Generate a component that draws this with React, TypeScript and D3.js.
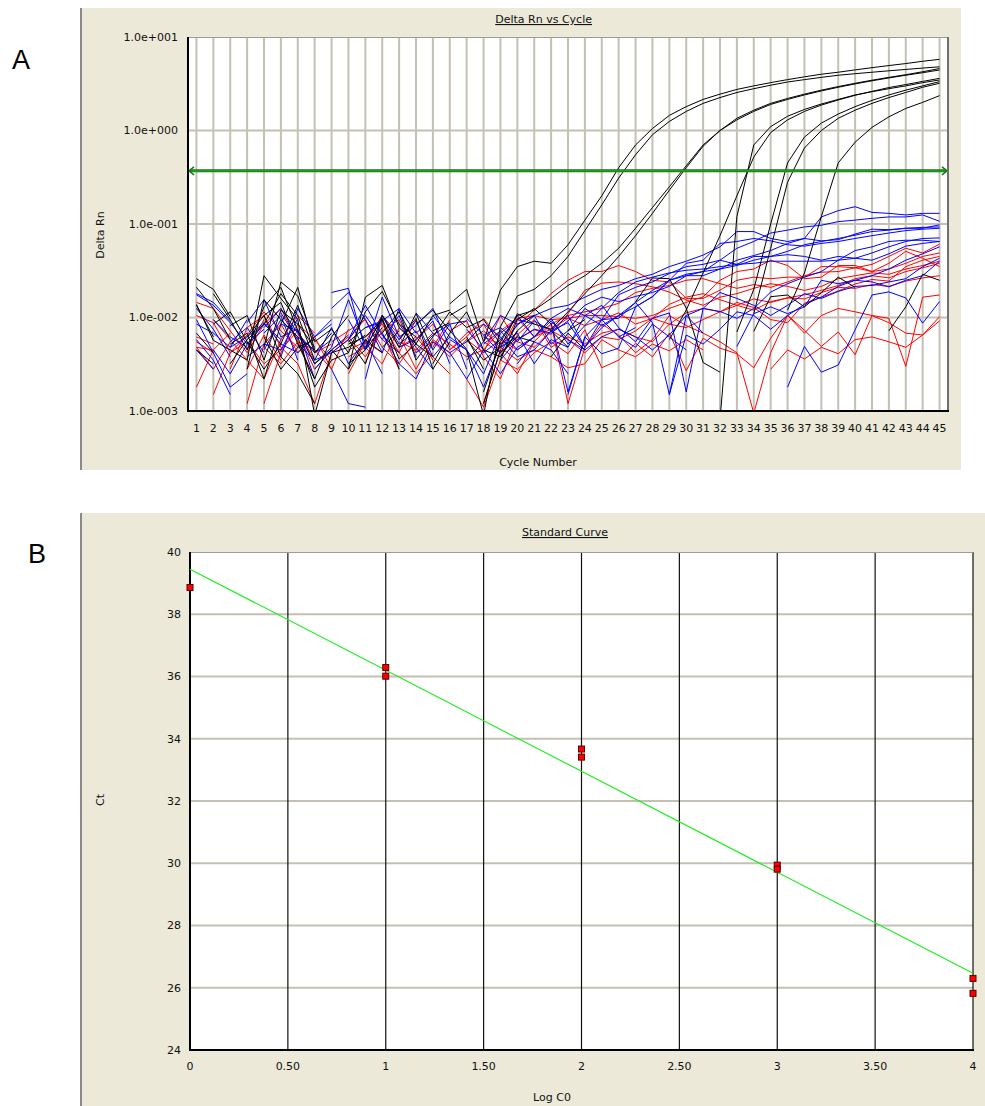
import React from 'react';
import * as d3 from 'd3';

type V = number | null;
const n = null;

// ---------- Panel A data ----------
const CYCLES = [1,2,3,4,5,6,7,8,9,10,11,12,13,14,15,16,17,18,19,20,21,22,23,24,25,26,27,28,29,30,31,32,33,34,35,36,37,38,39,40,41,42,43,44,45];
const Y_TICKS = [0.001, 0.01, 0.1, 1, 10];
const Y_TICK_LABELS = ['1.0e-003', '1.0e-002', '1.0e-001', '1.0e+000', '1.0e+001'];
const THRESHOLD = 0.37;

// black: standards (amplification) + baseline wells
const K1: V[] = [0.026,0.020,0.0102,n,0.0048, 0.024,0.017,0.0055,0.0075,0.0042, 0.0115,0.019,0.0085,0.0062,n, 0.014,0.02,0.0055,0.0197,0.035, 0.04,0.038,0.06,0.11,0.2, 0.4,0.7,1.05,1.45,1.8, 2.15,2.45,2.75,3.0,3.25, 3.5,3.75,4.0,4.2,4.45, 4.7,4.95,5.2,5.5,5.77];
const K2: V[] = [0.0138,0.0057,0.0045,0.0035,0.028, 0.016,0.0095,0.0009,0.0042,0.0048, 0.0065,n,0.012,0.0035,0.0062, n,0.0045,0.0009,0.008,0.017, 0.02,0.028,0.045,0.085,0.16, 0.31,0.55,0.9,1.25,1.6, 1.95,2.25,2.55,2.8,3.05, 3.3,3.5,3.7,3.9,4.05, 4.2,4.35,4.5,4.65,4.8];
const K3: V[] = [n,0.018,0.0095,0.0045,0.013, 0.021,0.0072,0.0032,0.0045,0.0028, 0.0165,0.022,0.0078,0.0052,0.0105, 0.012,n,0.0016,0.0055,0.0105, 0.012,0.016,0.022,0.028,0.038, 0.055,0.09,0.15,0.25,0.42, 0.7,1.0,1.35,1.65,1.95, 2.2,2.45,2.7,2.95,3.2, 3.45,3.7,3.95,4.25,4.6];
const K4: V[] = [0.0095,n,0.0052,0.0068,0.0022, 0.0085,0.021,0.0045,n,0.0058, 0.0032,0.0105,0.0048,0.011,0.0045, n,0.0058,0.0035,0.0048,0.011, 0.0085,0.0075,0.0115,0.018,0.028, 0.045,0.075,0.13,0.23,0.4, 0.68,1.0,1.3,1.6,1.9, 2.15,2.4,2.65,2.9,3.15, 3.4,3.65,3.9,4.15,4.44];
const K5: V[] = [0.0045,0.0032,n,0.0062,0.0105, 0.0038,0.0025,0.0012,n,0.0052, 0.0062,0.0095,0.0028,n,0.0032, 0.0068,0.0115,0.0045,0.0038,0.0072, 0.0105,n,n,n,n, n,n,n,n,n, n,0.0008,0.12,0.7,1.1, 1.42,1.68,1.92,2.15,2.4, 2.6,2.8,3.0,3.25,3.47];
const K6: V[] = [0.021,0.0125,0.0058,n,0.0105, 0.0145,0.0052,0.0022,0.0062,0.0105, n,0.0048,0.0072,n,0.0062, 0.0115,0.0078,0.0095,0.0052,n, n,0.0038,0.0068,0.0045,n, n,n,n,0.0058,0.012, 0.03,0.075,0.2,0.52,0.95, 1.3,1.6,1.87,2.12,2.38, 2.62,2.88,3.1,3.35,3.61];
const K7: V[] = [0.0055,n,0.0082,0.0105,0.0035, 0.012,0.0085,0.0048,n,0.0028, 0.0058,0.0042,n,0.0085,0.012, 0.0072,0.0046,n,0.0042,0.0062, 0.0055,n,0.0072,0.0095,n, n,n,n,n,n, n,n,0.007,0.02,0.1, 0.45,0.85,1.2,1.5,1.8, 2.1,2.4,2.7,3.0,3.33];
const K8: V[] = [n,0.0085,0.0115,0.0055,0.0028, 0.0052,0.0135,0.0042,0.0068,n, 0.0048,0.0098,0.0036,0.0052,n, 0.0105,0.0135,n,0.0035,0.0095, 0.0125,0.0085,n,n,n, n,n,n,n,n, n,n,n,0.011,0.055, 0.28,0.65,1.0,1.35,1.65, 1.95,2.25,2.55,2.9,3.2];
const K9: V[] = [0.0068,0.0042,n,0.0028,0.0155, 0.0095,0.0062,0.0018,0.0035,0.0042, n,0.0068,0.0115,0.0052,0.0038, n,0.0062,0.0028,n,n, n,0.0072,0.0048,n,n, n,n,n,n,n, n,n,n,n,n, 0.012,0.03,0.12,0.45,0.75, 1.08,1.4,1.72,2.0,2.36];
const K10: V[] = [n,n,0.0032,0.0058,0.0085, 0.018,0.0105,0.0035,n,0.0055, 0.0078,n,0.0058,0.0098,0.0028, 0.0055,n,n,0.0038,0.0072, n,n,n,n,n, n,0.0147,0.0265,0.026,0.0126, 0.0033,0.0026,n,0.0071,0.0167, 0.0174,0.013,0.0184,0.027,0.021, n,n,n,n,n];
const K11: V[] = [0.0135,0.0062,n,n,0.0062, 0.0028,0.0048,0.0058,n,0.0032, 0.0045,0.0078,n,n,0.0072, 0.0088,n,0.0012,0.0045,n, n,n,n,n,n, n,n,n,n,n, n,n,n,n,n, n,n,n,n,n, n,0.0072,0.013,0.029,0.025];

// blue wells
const B1: V[] = [0.018,0.0145,0.0092,n,0.0068, 0.0105,0.0035,n,0.0125,0.0185, 0.0095,0.0042,0.0125,0.0068,0.0098, n,0.0035,0.0055,0.0105,0.0085, 0.0105,0.0125,0.0135,0.0165,0.02, 0.022,0.026,0.029,0.035,0.04, 0.0465,0.057,0.083,0.083,0.07, 0.065,0.07,0.119,0.139,0.153, 0.133,0.13,0.125,0.13,0.13];
const B2: V[] = [0.0175,0.0135,0.0088,0.0052,0.0075, n,0.0062,0.0045,n,0.0095, 0.0045,0.0105,0.0058,0.0092,0.0038, 0.0062,0.0045,0.0025,0.0068,0.0095, 0.0085,n,0.0015,0.0062,0.0095, 0.0098,0.0145,0.0195,0.025,0.028, 0.031,0.041,0.055,0.065,0.08, 0.086,0.093,0.097,0.106,0.11, 0.115,0.119,0.119,0.125,0.107];
const B3: V[] = [0.0045,0.0028,n,0.0088,0.0155, 0.0062,0.0075,0.0022,n,0.0058, 0.0135,0.0065,0.0042,n,0.0105, 0.0062,n,0.0052,0.0072,0.0045, 0.0062,0.0098,0.0125,0.0105,0.0082, 0.0105,0.013,0.0167,0.025,0.029, 0.031,0.033,0.036,0.041,0.045, 0.051,0.06,0.065,0.07,0.076, 0.083,0.086,0.09,0.092,0.093];
const B4: V[] = [n,0.0095,0.0062,0.0048,n, 0.0038,0.0125,0.0062,0.0085,n, 0.0078,0.0092,0.0125,n,0.0045, 0.0085,0.0092,n,0.0035,0.0058, 0.0075,0.0068,0.0092,0.0135,0.0165, 0.0148,0.0168,0.0185,0.0215,0.028, 0.028,0.033,0.041,0.046,0.052, 0.062,0.07,0.066,0.068,0.078, 0.088,0.087,0.09,0.09,0.098];
const B5: V[] = [0.0095,0.0042,0.0018,0.0025,n, 0.0085,0.0072,0.0032,0.0048,0.0155, 0.0052,n,0.0085,0.0048,0.0028, n,0.0075,0.0045,0.0025,0.0048, 0.0062,0.0098,0.0052,0.0082,0.0125, 0.0185,0.024,0.027,0.03,0.032, 0.033,0.035,0.037,0.038,0.04, 0.04,0.04,0.04,0.041,0.043, 0.049,0.057,0.065,0.07,0.071];
const B6: V[] = [n,0.0068,0.0048,0.0095,n, 0.0112,0.0058,n,0.0185,0.0205, 0.0045,0.0165,0.0062,0.0082,0.0125, 0.0048,n,0.0065,0.0042,0.0085, 0.0105,0.0052,0.0072,0.0125,0.0095, 0.0175,0.021,0.024,0.0295,0.035, 0.037,0.041,0.037,0.045,0.045, 0.047,0.045,0.041,0.045,0.043, 0.041,0.048,0.058,0.062,0.065];
const B7: V[] = [0.0058,0.0035,0.0015,n,0.0078, 0.0125,0.0068,0.0042,0.0058,n, 0.0022,0.0105,0.0052,0.0072,n, 0.0042,0.0055,0.0085,0.0062,0.0038, 0.0045,0.0072,0.0105,0.0048,0.0095, 0.0062,0.0048,0.0085,0.0062,0.0045, n,n,0.0049,0.011,0.013, 0.011,0.013,0.025,0.023,0.025, 0.024,0.0213,0.025,0.028,0.04];
const B8: V[] = [0.0085,0.0068,n,0.0038,0.0052, 0.0045,0.0098,n,0.0028,0.0012, 0.0011,n,0.0048,0.0058,0.0092, 0.0032,n,0.0042,0.0058,0.0105, 0.0062,0.0092,0.0058,0.0045,0.0062, 0.0075,0.0062,0.0045,0.0065,0.0105, 0.0125,0.0116,0.0098,0.0125,0.0187, 0.023,0.027,0.031,0.041,0.052, 0.057,0.065,0.067,0.067,0.065];
const B9: V[] = [0.0032,n,0.0055,0.0078,0.0042, n,0.0052,0.0035,0.0078,0.0032, 0.0058,0.0025,n,0.0042,0.0065, 0.0085,0.0028,n,0.0048,0.0062, n,0.0088,0.0016,0.0062,0.0041, 0.0047,0.013,0.0167,0.025,0.038, 0.041,0.062,0.065,0.07,0.066, 0.06,0.058,0.062,0.065,0.07, 0.075,0.08,0.085,0.088,0.09];
const B10: V[] = [n,0.0045,0.0025,0.0052,0.0085, 0.0058,n,0.0028,0.0045,0.0065, n,0.0068,0.0032,0.0022,0.0055, 0.0042,0.0022,0.0045,n,0.0032, 0.0055,0.0045,0.0025,n,n, 0.0062,0.0078,n,0.0015,0.0105, 0.0068,n,n,n,n, 0.0018,0.0049,0.0026,0.0031,0.0074, 0.0174,0.0188,0.0162,0.0087,0.0148];
const B11: V[] = [0.0125,0.0075,0.0038,n,0.0045, 0.0095,n,0.0035,0.0042,0.0058, 0.0105,0.0058,0.0105,0.0038,n, 0.0058,0.0045,0.0018,0.0052,0.0068, 0.0032,0.0058,0.0048,0.0105,0.0135, 0.0078,0.0055,0.0098,0.0112,0.0016, 0.0125,0.0185,0.016,0.0135,0.0105, 0.0135,0.018,0.016,0.019,0.0215, 0.022,0.024,0.026,0.035,0.043];
const B12: V[] = [n,n,0.0048,0.0062,0.0088, 0.0052,0.0042,0.0062,0.0095,n, 0.0078,0.0088,n,0.0112,0.0068, n,0.0098,0.0065,0.0078,0.0055, 0.0092,0.0072,0.0088,0.0048,0.0078, 0.0105,0.0145,0.0088,0.0015,0.0065, 0.0052,0.0075,0.0115,0.0105,0.0075, 0.0105,0.0138,0.0165,0.0215,0.025, 0.028,0.033,0.041,0.048,0.057];

// red wells
const R1: V[] = [0.0055,0.0042,n,0.0028,0.0065, 0.0035,n,0.0042,0.0052,n, 0.0032,0.0092,0.0048,0.0062,0.0038, 0.0025,n,0.0062,0.0052,0.0082, 0.012,0.018,0.025,0.031,0.031, 0.036,0.031,0.025,0.024,0.016, 0.016,0.0196,0.025,0.027,0.026, 0.027,0.027,0.035,0.035,0.034, 0.031,0.038,0.051,0.043,0.035];
const R2: V[] = [0.0145,0.0125,0.0072,0.0042,0.0085, 0.0125,0.0055,0.0022,n,0.0045, 0.0055,0.0105,0.0065,0.0028,0.0058, 0.0042,n,0.0012,0.0045,0.0098, 0.0105,0.0095,0.0098,0.0105,0.0105, 0.0102,0.0098,0.0105,0.0125,0.0145, 0.0166,0.025,0.031,0.033,0.041, 0.036,0.026,0.027,0.036,0.036, 0.031,0.033,0.038,0.045,0.049];
const R3: V[] = [0.0048,0.0045,n,0.0012,0.0052, 0.0085,0.0042,0.0062,0.0028,0.0075, n,0.0058,0.0042,0.0095,n, 0.0045,0.0068,0.0085,0.0042,0.0058, 0.0074,0.0066,0.011,0.0196,0.0233, 0.024,0.023,0.0213,0.0187,0.0154, 0.0135,0.0165,0.018,0.0205,0.023, 0.0215,0.0195,0.0215,0.026,0.028, 0.03,0.029,0.033,0.036,0.04];
const R4: V[] = [n,0.0015,0.0042,0.0055,0.0032, 0.0045,0.0072,0.0035,n,0.0025, 0.0055,0.0042,n,0.0072,0.0035, n,0.0022,0.0011,0.0035,0.0028, 0.0042,0.0055,0.0041,0.0074,0.0029, 0.0035,0.0053,0.0038,0.0068,0.0027, 0.006,0.0047,0.0041,0.0029,0.006, 0.0106,0.0073,0.0049,0.007,0.004, 0.0105,0.0088,0.0068,0.0065,0.0102];
const R5: V[] = [0.0048,0.0028,0.0055,n,0.0012, 0.0042,0.0085,0.0058,0.0035,n, 0.0052,0.0068,0.0028,n,0.0048, 0.0095,n,0.0055,0.0042,0.0025, 0.0055,0.0085,0.0012,0.0048,0.0085, 0.0065,0.0042,0.0058,0.0105,0.0082, 0.0068,0.0055,0.0042,0.00095,0.0042, 0.0105,0.0068,0.0105,0.0125,0.0115, 0.0105,0.0098,0.003,0.0165,0.0174];
const R6: V[] = [0.0105,0.0088,0.0042,0.0065,0.0115, 0.0072,0.0048,n,0.0055,0.0072, 0.0095,0.0048,0.0032,0.0058,0.0085, 0.0045,0.0062,0.0098,0.0058,0.0045, 0.0062,0.0085,0.0105,0.0115,0.0125, 0.0142,0.0185,0.0205,0.022,0.025, 0.026,0.023,0.0205,0.0225,0.021, 0.024,0.028,0.0305,0.031,0.034, 0.037,0.045,0.055,0.049,0.061];
const R7: V[] = [0.0035,n,0.0028,0.0078,0.0105, 0.0048,0.0032,0.0012,0.0042,0.0058, 0.0098,n,0.0055,0.0045,0.0068, 0.0052,0.0038,0.0045,0.0072,0.0098, 0.0062,0.0075,0.0098,0.0082,0.0095, 0.0112,0.0085,0.0098,0.0138,0.0165, 0.018,0.0155,0.0135,0.012,0.0148, 0.0162,0.0175,0.0195,0.022,0.026, 0.028,0.0265,0.031,0.034,0.038];
const R8: V[] = [n,0.0095,0.0058,0.0035,0.0022, 0.0058,0.0105,0.0068,n,0.0038, 0.0048,0.0032,0.0078,0.0052,n, 0.0072,0.0092,0.0038,0.0022,0.0065, 0.0095,0.0048,0.0062,0.0052,0.0068, 0.0075,0.0062,0.0055,0.0085,0.0078, 0.0095,0.0115,0.0145,0.0128,0.0095, 0.0088,0.0142,0.0165,0.0192,0.0228, 0.0255,0.0245,0.035,0.041,0.045];
const R9: V[] = [0.0062,0.0052,n,0.0045,0.0095, n,0.0068,0.0028,0.0045,0.0062, 0.0038,0.0072,0.0095,0.0042,0.0055, 0.0038,0.0058,0.0042,0.0105,0.0055, 0.0048,0.0072,0.0058,0.0042,0.0062, 0.0058,0.0072,0.0098,0.0085,0.0112, 0.0125,0.0115,0.0135,0.0158,0.0145, 0.0162,0.0158,0.0185,0.021,0.0205, 0.0225,0.0215,0.0245,0.0265,0.028];
const R10: V[] = [0.0018,0.0045,0.0068,n,0.0048, 0.0032,0.0055,0.0045,0.0028,n, 0.0062,0.0085,0.0042,0.0025,0.0042, n,0.0055,0.0072,0.0048,0.0035, 0.0045,0.0038,0.0029,0.0032,0.0058, 0.0045,0.0038,0.0052,0.0044,0.0058, 0.0045,n,n,n,0.0028, 0.0045,0.0036,0.0048,0.0041,0.0058, 0.0062,0.0055,0.0048,0.0065,0.0092];

const BLACK = [K1, K2, K3, K4, K5, K6, K7, K8, K9, K10, K11];
const BLUE = [B1, B2, B3, B4, B5, B6, B7, B8, B9, B10, B11, B12];
const RED = [R1, R2, R3, R4, R5, R6, R7, R8, R9, R10];

// ---------- Panel B data ----------
const LOG_C0 = [0, 1, 1, 2, 2, 3, 3, 4, 4];
const CT = [38.86, 36.29, 36.01, 33.67, 33.41, 29.94, 29.81, 26.30, 25.82];
const B_X_TICKS = [0, 0.5, 1, 1.5, 2, 2.5, 3, 3.5, 4];
const B_X_LABELS = ['0', '0.50', '1', '1.50', '2', '2.50', '3', '3.50', '4'];
const B_Y_TICKS = [24, 26, 28, 30, 32, 34, 36, 38, 40];

const BEIGE = '#ECE9D8';
const GRID = '#c4c0b4';
const FONT = '"DejaVu Sans", Verdana, sans-serif';

export default function App() {
  // Panel A
  const ax = d3.scaleLinear().domain([0.5, 45.5]).range([188, 948]);
  const ay = d3.scaleLog().domain([0.001, 10]).range([411, 37]);
  const line = d3
    .line<V>()
    .defined((v) => v != null && (v as number) > 0)
    .x((_, i) => ax(CYCLES[i]))
    .y((v) => ay(v as number));

  // Panel B
  const bx = d3.scaleLinear().domain([0, 4]).range([190, 973]);
  const by = d3.scaleLinear().domain([24, 40]).range([1050, 552]);
  const mx = d3.mean(LOG_C0) as number;
  const my = d3.mean(CT) as number;
  const sxy = d3.sum(LOG_C0.map((xv, i) => (xv - mx) * (CT[i] - my)));
  const sxx = d3.sum(LOG_C0.map((xv) => (xv - mx) * (xv - mx)));
  const slope = sxy / sxx;
  const intercept = my - slope * mx;

  const ty = ay(THRESHOLD);

  return (
    <svg width={985} height={1106} style={{ position: 'absolute', left: 0, top: 0, background: '#fff' }} fontFamily={FONT}>
      <defs>
        <clipPath id="clipA">
          <rect x={188} y={37} width={760} height={374} />
        </clipPath>
      </defs>

      {/* Panel labels */}
      <text x={12} y={69} fontFamily='"Liberation Sans", Arial, sans-serif' fontSize={27} fill="#000">A</text>
      <text x={28} y={563} fontFamily='"Liberation Sans", Arial, sans-serif' fontSize={27} fill="#000">B</text>

      {/* ===== Panel A ===== */}
      <rect x={80} y={8} width={881} height={462} fill={BEIGE} />
      <line x1={81} x2={81} y1={8} y2={470} stroke="#8a8a8a" strokeWidth={2} />
      <rect x={188} y={37} width={760} height={374} fill="#fff" />
      {CYCLES.map((c) => (
        <line key={'vg' + c} x1={ax(c)} x2={ax(c)} y1={37} y2={411} stroke={GRID} strokeWidth={2} />
      ))}
      {Y_TICKS.slice(1, 4).map((t) => (
        <line key={'hg' + t} x1={188} x2={948} y1={ay(t)} y2={ay(t)} stroke={GRID} strokeWidth={2} />
      ))}
      <g clipPath="url(#clipA)" fill="none" strokeWidth={1}>
        {RED.map((s, i) => (
          <path key={'r' + i} d={line(s) || ''} stroke="#ff0000" />
        ))}
        {BLUE.map((s, i) => (
          <path key={'b' + i} d={line(s) || ''} stroke="#0000ff" />
        ))}
        {BLACK.map((s, i) => (
          <path key={'k' + i} d={line(s) || ''} stroke="#000" />
        ))}
      </g>
      {/* threshold */}
      <line x1={190} x2={946} y1={ty} y2={ty} stroke="#0a7d0a" strokeWidth={3} />
      <line x1={190} x2={946} y1={ty} y2={ty} stroke="#3aa33a" strokeWidth={1} />
      <polyline points={`${194},${ty - 4} ${189},${ty} ${194},${ty + 4}`} fill="none" stroke="#0a7d0a" strokeWidth={1.5} />
      <polyline points={`${942},${ty - 4} ${947},${ty} ${942},${ty + 4}`} fill="none" stroke="#0a7d0a" strokeWidth={1.5} />
      {/* borders */}
      <line x1={188} x2={948} y1={37.5} y2={37.5} stroke="#a09c90" strokeWidth={1} />
      <line x1={948} x2={948} y1={37} y2={412} stroke="#707070" strokeWidth={2} />
      <line x1={188} x2={188} y1={37} y2={412} stroke="#000" strokeWidth={2} />
      <line x1={187} x2={949} y1={411} y2={411} stroke="#000" strokeWidth={2} />
      {/* y ticks */}
      {Y_TICKS.map((t, i) => (
        <text key={'yt' + t} x={178} y={ay(t)} dy="0.35em" textAnchor="end" fontSize={11} fill="#111">
          {Y_TICK_LABELS[i]}
        </text>
      ))}
      {CYCLES.map((c) => (
        <text key={'xt' + c} x={ax(c)} y={428} dy="0.35em" textAnchor="middle" fontSize={11} fill="#111">
          {c}
        </text>
      ))}
      <text x={592} y={23} textAnchor="end" fontSize={11} fill="#111" textDecoration="underline">Delta Rn vs Cycle</text>
      <text x={538} y={462} dy="0.35em" textAnchor="middle" fontSize={11} fill="#111">Cycle Number</text>
      <text transform={`translate(100,235) rotate(-90)`} textAnchor="middle" dy="0.35em" fontSize={11} fill="#111">Delta Rn</text>

      {/* ===== Panel B ===== */}
      <rect x={80} y={513} width={905} height={593} fill={BEIGE} />
      <line x1={81} x2={81} y1={513} y2={1106} stroke="#8a8a8a" strokeWidth={2} />
      <rect x={190} y={552} width={783} height={498} fill="#fff" />
      {B_Y_TICKS.slice(1, 8).map((t) => (
        <line key={'bhg' + t} x1={190} x2={973} y1={by(t)} y2={by(t)} stroke={GRID} strokeWidth={2} />
      ))}
      {B_X_TICKS.slice(1).map((t) => (
        <line key={'bvg' + t} x1={bx(t)} x2={bx(t)} y1={552} y2={1050} stroke="#111" strokeWidth={1.2} />
      ))}
      <line x1={190} x2={973} y1={552.5} y2={552.5} stroke="#a09c90" strokeWidth={1} />
      <line x1={190} x2={190} y1={552} y2={1051} stroke="#000" strokeWidth={2} />
      <line x1={189} x2={974} y1={1050} y2={1050} stroke="#000" strokeWidth={2} />
      <line
        x1={bx(0)}
        x2={bx(4)}
        y1={by(intercept)}
        y2={by(intercept + slope * 4)}
        stroke="#22ee22"
        strokeWidth={1.2}
      />
      {LOG_C0.map((xv, i) => (
        <rect
          key={'pt' + i}
          x={bx(xv) - 3}
          y={by(CT[i]) - 3}
          width={6}
          height={6}
          fill="#ff0000"
          stroke="#5a0000"
          strokeWidth={1}
        />
      ))}
      {B_Y_TICKS.map((t) => (
        <text key={'byt' + t} x={181} y={by(t)} dy="0.35em" textAnchor="end" fontSize={11} fill="#111">
          {t}
        </text>
      ))}
      {B_X_TICKS.map((t, i) => (
        <text key={'bxt' + t} x={bx(t)} y={1066} dy="0.35em" textAnchor="middle" fontSize={11} fill="#111">
          {B_X_LABELS[i]}
        </text>
      ))}
      <text x={565} y={536} textAnchor="middle" fontSize={11} fill="#111" textDecoration="underline">Standard Curve</text>
      <text x={552} y={1097} dy="0.35em" textAnchor="middle" fontSize={11} fill="#111">Log C0</text>
      <text transform={`translate(100,800) rotate(-90)`} textAnchor="middle" dy="0.35em" fontSize={11} fill="#111">Ct</text>
    </svg>
  );
}
